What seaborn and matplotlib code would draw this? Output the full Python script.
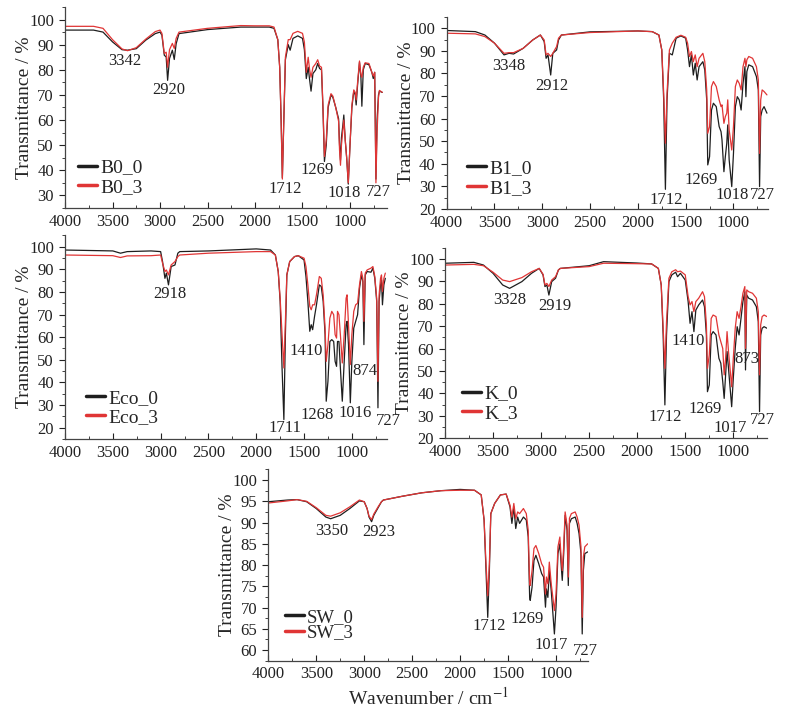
import numpy as np
import pandas as pd
import seaborn as sns
import matplotlib
matplotlib.use('Agg')
import matplotlib.pyplot as plt
from matplotlib.ticker import MultipleLocator
from matplotlib.lines import Line2D

# ---- spectra (wavenumber / cm-1, transmittance / %) ----
wn_b0 = [4000, 3700, 3600, 3500, 3400, 3342, 3250, 3150, 3050, 3000,
         2980, 2955, 2935, 2920, 2900, 2870, 2850, 2830, 2800, 2500,
         2150, 2000, 1850, 1800, 1760, 1740, 1725, 1712, 1700, 1680,
         1650, 1630, 1600, 1550, 1500, 1480, 1460, 1440, 1425, 1410,
         1390, 1360, 1340, 1320, 1300, 1285, 1269, 1250, 1230, 1200,
         1180, 1150, 1120, 1110, 1100, 1090, 1075, 1065, 1050, 1035,
         1018, 1000, 980, 960, 945, 935, 920, 900, 885, 875,
         860, 840, 800, 770, 755, 740, 727, 715, 700, 690,
         660]
t_b0_0 = [95.8, 95.8, 95.0, 91.1, 88.0, 87.8, 88.4, 91.8, 94.4, 95.0,
          93.8, 85.8, 85.1, 75.8, 84.5, 87.8, 84.1, 90.4, 94.4, 96.0,
          97.0, 97.0, 97.0, 96.5, 92.0, 81.0, 60.0, 37.0, 55.0, 84.0,
          90.0, 87.8, 92.5, 93.5, 92.5, 88.0, 76.5, 81.0, 76.0, 71.5,
          78.5, 80.0, 82.5, 80.5, 80.0, 65.0, 43.5, 50.0, 65.0, 70.0,
          69.0, 65.0, 60.5, 50.0, 44.0, 53.0, 58.0, 62.0, 52.0, 45.0,
          34.5, 50.0, 65.0, 71.5, 70.0, 66.0, 74.0, 83.0, 77.0, 65.5,
          80.0, 82.5, 82.0, 79.0, 76.5, 79.0, 36.5, 60.0, 70.0, 71.5,
          71.0]
t_b0_3 = [97.3, 97.3, 96.5, 92.0, 88.3, 87.6, 88.8, 92.2, 95.2, 95.8,
          94.5, 86.5, 87.0, 81.0, 88.0, 90.5, 88.5, 92.5, 95.0, 96.5,
          97.6, 97.5, 97.5, 97.0, 92.0, 81.0, 60.0, 36.5, 55.0, 85.0,
          92.0, 92.0, 94.5, 95.3, 94.5, 91.0, 79.0, 85.0, 80.0, 77.0,
          81.0, 82.5, 84.0, 81.5, 81.0, 66.0, 45.5, 52.0, 66.0, 70.5,
          69.5, 65.0, 59.5, 48.0, 42.0, 50.0, 56.0, 60.0, 52.0, 45.0,
          35.0, 50.0, 66.0, 72.0, 71.0, 68.0, 75.0, 83.5, 78.0, 77.0,
          81.0, 82.8, 82.5, 79.0, 77.5, 79.0, 35.0, 55.0, 69.0, 71.8,
          71.0]

wn_b1 = [4000, 3700, 3600, 3500, 3400, 3348, 3300, 3200, 3100, 3020,
         2980, 2960, 2940, 2912, 2890, 2850, 2830, 2800, 2500, 2000,
         1850, 1780, 1750, 1730, 1712, 1695, 1670, 1640, 1600, 1550,
         1500, 1480, 1460, 1440, 1420, 1400, 1380, 1360, 1320, 1300,
         1280, 1269, 1250, 1230, 1210, 1180, 1150, 1130, 1120, 1100,
         1085, 1070, 1060, 1045, 1018, 1000, 980, 960, 940, 920,
         900, 880, 870, 860, 840, 800, 760, 740, 727, 715,
         700, 680, 650]
t_b1_0 = [99.0, 98.5, 97.0, 93.4, 88.2, 88.9, 88.6, 91.1, 94.8, 97.0,
          94.1, 86.7, 88.2, 79.3, 88.9, 90.4, 94.8, 97.0, 98.4, 98.8,
          98.5, 97.0, 90.4, 68.3, 28.7, 68.3, 88.9, 88.2, 95.6, 96.6,
          95.6, 90.4, 83.0, 88.2, 79.3, 84.5, 77.1, 83.0, 85.2, 81.5,
          68.3, 39.5, 43.2, 63.8, 66.8, 65.3, 56.5, 54.2, 50.6, 36.5,
          43.2, 49.1, 57.2, 41.7, 29.9, 44.6, 65.3, 69.7, 68.3, 63.8,
          75.6, 83.0, 69.7, 80.8, 83.8, 83.0, 78.6, 72.7, 29.9, 60.9,
          63.8, 65.3, 62.4]
t_b1_3 = [97.8, 97.5, 96.3, 93.4, 88.9, 89.2, 89.2, 91.1, 94.8, 97.0,
          94.8, 88.2, 88.9, 87.5, 88.9, 91.9, 95.6, 97.0, 98.1, 98.8,
          98.5, 97.0, 90.4, 71.2, 49.1, 71.2, 90.4, 93.4, 96.0, 96.9,
          96.0, 93.4, 87.5, 89.7, 85.2, 88.2, 83.0, 86.7, 88.9, 85.2,
          72.7, 53.5, 56.5, 74.2, 76.4, 74.2, 68.3, 65.3, 66.1, 57.9,
          60.9, 62.4, 68.3, 55.0, 46.1, 56.5, 74.2, 77.1, 75.6, 72.7,
          83.0, 86.7, 83.0, 86.0, 87.5, 86.7, 83.0, 77.1, 44.6, 68.3,
          72.7, 72.0, 70.5]

wn_eco = [4000, 3500, 3420, 3350, 3100, 3000, 2980, 2955, 2940, 2918,
          2890, 2850, 2820, 2800, 2500, 2000, 1850, 1800, 1770, 1750,
          1730, 1711, 1695, 1680, 1650, 1600, 1560, 1500, 1480, 1460,
          1440, 1425, 1410, 1390, 1370, 1340, 1320, 1300, 1280, 1268,
          1250, 1230, 1210, 1190, 1175, 1160, 1150, 1135, 1120, 1100,
          1080, 1060, 1050, 1035, 1016, 1000, 980, 960, 940, 920,
          900, 885, 874, 860, 840, 800, 780, 760, 740, 727,
          715, 700, 690, 680, 665, 650]
t_eco_0 = [98.5, 98.1, 97.1, 97.8, 98.1, 97.8, 93.4, 86.0, 88.3, 83.1,
           91.2, 91.9, 97.1, 97.8, 98.1, 99.0, 98.5, 96.3, 89.0, 75.8,
           46.4, 23.6, 61.1, 87.5, 93.4, 95.6, 96.0, 94.1, 86.8, 75.8,
           62.6, 65.5, 63.3, 69.2, 74.3, 83.1, 82.4, 75.8, 61.1, 31.7,
           40.5, 58.1, 58.9, 58.1, 49.3, 47.1, 58.1, 58.1, 46.4, 31.7,
           49.3, 65.5, 67.0, 56.7, 31.0, 49.3, 64.0, 67.0, 69.9, 81.6,
           87.5, 84.6, 56.7, 87.5, 89.0, 88.7, 90.5, 86.0, 75.8, 28.8,
           75.8, 83.1, 85.3, 74.3, 83.1, 86.0]
t_eco_3 = [96.3, 96.0, 95.2, 95.9, 96.0, 96.3, 92.7, 89.0, 89.7, 87.5,
           91.9, 93.4, 95.6, 96.3, 97.1, 97.8, 97.8, 96.3, 89.0, 77.2,
           61.1, 46.4, 67.0, 87.5, 93.4, 95.6, 96.0, 94.9, 91.2, 83.1,
           73.6, 72.1, 74.3, 74.3, 78.7, 86.8, 86.0, 78.7, 64.0, 49.3,
           56.7, 68.4, 71.4, 69.9, 61.1, 59.6, 71.4, 69.9, 61.1, 48.6,
           61.1, 77.2, 78.7, 65.5, 47.9, 61.1, 71.4, 74.3, 75.0, 83.1,
           89.0, 86.0, 67.0, 88.3, 89.7, 90.5, 91.2, 86.8, 77.2, 40.5,
           78.7, 86.0, 87.5, 80.2, 86.0, 88.3]

wn_k = [4000, 3700, 3600, 3500, 3400, 3328, 3200, 3100, 3020, 2980,
        2960, 2940, 2919, 2890, 2850, 2820, 2800, 2500, 2350, 2000,
        1850, 1780, 1750, 1730, 1712, 1695, 1670, 1640, 1600, 1580,
        1550, 1500, 1470, 1450, 1430, 1410, 1390, 1360, 1320, 1300,
        1280, 1269, 1250, 1230, 1210, 1180, 1150, 1130, 1110, 1095,
        1080, 1065, 1050, 1017, 1000, 980, 960, 940, 920, 900,
        880, 873, 860, 840, 800, 760, 740, 727, 715, 700,
        680, 650]
t_k_0 = [98.1, 98.5, 97.3, 93.6, 88.4, 86.9, 89.9, 93.6, 95.8, 92.9,
         87.7, 88.4, 83.9, 89.9, 91.4, 95.1, 95.8, 97.0, 98.8, 98.2,
         97.8, 95.8, 88.4, 66.1, 34.9, 66.1, 89.9, 92.9, 94.1, 92.1,
         93.6, 90.6, 81.0, 71.3, 76.5, 67.6, 77.2, 79.5, 81.7, 78.7,
         66.1, 40.8, 43.8, 66.1, 67.6, 66.1, 55.7, 53.5, 45.3, 37.8,
         48.3, 58.7, 51.2, 34.1, 46.8, 60.1, 69.8, 66.1, 73.5, 81.0,
         85.4, 50.5, 83.9, 82.5, 81.7, 78.7, 72.0, 31.9, 66.1, 69.1,
         69.8, 69.1]
t_k_3 = [97.3, 97.6, 97.0, 94.1, 90.6, 89.9, 91.7, 94.3, 95.8, 93.2,
         88.4, 89.1, 87.7, 90.6, 92.1, 95.1, 95.8, 96.6, 98.1, 97.9,
         97.8, 95.8, 88.4, 69.1, 51.2, 72.0, 91.4, 94.3, 95.2, 94.3,
         94.6, 92.9, 83.2, 79.5, 81.0, 76.5, 81.0, 82.5, 85.4, 83.2,
         70.6, 51.2, 57.2, 73.5, 75.0, 74.3, 66.1, 63.1, 60.1, 48.3,
         55.7, 67.6, 58.7, 43.0, 55.7, 69.1, 76.5, 73.5, 78.7, 84.7,
         87.7, 60.1, 86.2, 85.4, 84.7, 82.5, 76.5, 48.3, 70.6, 74.3,
         75.0, 74.3]

wn_sw = [4000, 3800, 3700, 3600, 3500, 3400, 3350, 3250, 3150, 3050,
         3000, 2970, 2950, 2923, 2900, 2850, 2820, 2800, 2600, 2400,
         2200, 2000, 1850, 1780, 1750, 1730, 1712, 1695, 1680, 1640,
         1580, 1520, 1480, 1460, 1440, 1420, 1400, 1380, 1340, 1310,
         1290, 1275, 1269, 1250, 1230, 1210, 1180, 1150, 1130, 1110,
         1100, 1085, 1070, 1050, 1017, 1000, 980, 960, 945, 935,
         920, 905, 885, 872, 860, 840, 800, 780, 760, 740,
         727, 715, 700, 670]
t_sw_0 = [94.9, 95.3, 95.4, 94.9, 93.3, 91.3, 90.9, 91.7, 93.3, 95.1,
          94.9, 93.3, 91.3, 90.2, 91.7, 93.7, 94.9, 95.3, 96.2, 97.0,
          97.5, 97.8, 97.6, 96.5, 90.6, 78.7, 67.7, 78.7, 92.1, 94.5,
          96.5, 96.7, 93.7, 89.8, 93.7, 88.6, 91.3, 89.8, 91.3, 90.6,
          86.6, 72.4, 71.7, 74.8, 81.1, 82.3, 80.3, 78.0, 77.2, 70.1,
          74.4, 72.4, 78.7, 74.0, 63.8, 70.1, 82.7, 85.0, 79.5, 76.4,
          82.7, 91.7, 88.2, 75.2, 89.8, 90.9, 91.3, 89.8, 87.4, 82.7,
          63.8, 78.7, 82.7, 83.1]
t_sw_3 = [94.6, 95.1, 95.4, 95.0, 93.5, 91.7, 91.5, 92.3, 93.7, 95.3,
          94.9, 93.3, 91.5, 90.7, 92.0, 93.9, 94.9, 95.3, 96.2, 97.0,
          97.5, 97.6, 97.6, 96.5, 90.6, 80.3, 72.8, 80.3, 92.1, 94.5,
          96.5, 96.7, 94.1, 91.3, 94.5, 90.9, 92.5, 92.1, 93.3, 92.1,
          88.2, 75.6, 75.2, 78.7, 83.9, 84.6, 82.7, 80.3, 79.5, 73.2,
          77.2, 75.6, 80.7, 75.6, 69.3, 73.2, 84.3, 86.6, 81.1, 78.7,
          84.3, 92.5, 89.4, 77.2, 91.0, 92.1, 92.5, 91.3, 89.4, 84.3,
          67.7, 81.9, 84.3, 85.0]

# peak labels (text, wavenumber position, transmittance position)
pk_b0 = ['3342', '2920', '1712', '1269', '1018', '727']
pk_b0_x = [3368, 2912, 1684, 1351, 1060, 702]
pk_b0_y = [83.4, 72.1, 32.7, 40.0, 31.1, 31.3]
pk_b1 = ['3348', '2912', '1712', '1269', '1018', '727']
pk_b1_x = [3355, 2902, 1700, 1334, 1010, 697]
pk_b1_y = [83.5, 74.5, 24.0, 32.8, 26.2, 26.2]
pk_eco = ['2918', '1410', '874', '1268', '1016', '727', '1711']
pk_eco_x = [2902, 1474, 864, 1362, 969, 620, 1700]
pk_eco_y = [79.0, 54.0, 45.2, 25.8, 26.3, 22.9, 20.0]
pk_k = ['3328', '2919', '1410', '873', '1269', '1017', '727', '1712']
pk_k_x = [3323, 2854, 1472, 858, 1292, 1031, 701, 1708]
pk_k_y = [81.7, 79.0, 63.4, 55.2, 33.1, 24.8, 28.2, 29.7]
pk_sw = ['3350', '2923', '1712', '1269', '1017', '727']
pk_sw_x = [3340, 2853, 1699, 1299, 1046, 698]
pk_sw_y = [88.0, 87.8, 65.7, 67.3, 61.3, 59.8]

BLACK = '#1e1e1e'
RED = '#e03535'

sns.set_theme(style='ticks')
plt.rcParams['font.family'] = ['Liberation Serif', 'DejaVu Serif']
plt.rcParams['mathtext.fontset'] = 'stix'

fig = plt.figure(figsize=(7.91, 7.12), dpi=100)


def draw(rect, wn, t0, t3, names, xright, ylim, yticks, ystep,
         pk, pkx, pky, leg_xy, leg_sp, leg_fs=14, xlabel=False):
    ax = fig.add_axes(rect)
    n = len(wn)
    df = pd.DataFrame({'wn': wn + wn, 'T': t0 + t3,
                       'sample': [names[0]] * n + [names[1]] * n})
    sns.lineplot(data=df, x='wn', y='T', hue='sample', palette=[BLACK, RED],
                 estimator=None, lw=0.9, ax=ax, legend=False)
    ax.set_xlim(4000, xright)
    ax.set_ylim(*ylim)
    ax.set_xticks([4000, 3500, 3000, 2500, 2000, 1500, 1000])
    ax.xaxis.set_minor_locator(MultipleLocator(250))
    ax.set_yticks(yticks)
    ax.yaxis.set_minor_locator(MultipleLocator(ystep))
    ax.tick_params(axis='x', which='both', direction='in', labelsize=12, pad=4, colors='#222222')
    ax.tick_params(axis='y', which='both', direction='out', labelsize=12, pad=4, colors='#222222')
    ax.tick_params(which='major', length=4, width=0.8)
    ax.tick_params(which='minor', length=2, width=0.6)
    for s in ['left', 'bottom']:
        ax.spines[s].set_color('#444444')
        ax.spines[s].set_linewidth(0.9)
    sns.despine(ax=ax)
    ax.set_ylabel('Transmittance / %', fontsize=14, labelpad=-3)
    if xlabel:
        ax.set_xlabel('Wavenumber / cm$^{-1}$', fontsize=14, labelpad=3)
    else:
        ax.set_xlabel('')
    for lab, x, y in zip(pk, pkx, pky):
        ax.text(x, y, lab, fontsize=12, ha='center', va='center', color='#222222')
    handles = [Line2D([], [], color=BLACK, lw=2.5), Line2D([], [], color=RED, lw=2.5)]
    ax.legend(handles, names, loc='center left', bbox_to_anchor=leg_xy, frameon=False,
              fontsize=leg_fs, handlelength=1.0, handletextpad=0.15, labelspacing=leg_sp,
              borderpad=0, borderaxespad=0)
    return ax


draw([0.0822, 0.7079, 0.4071, 0.2823], wn_b0, t_b0_0, t_b0_3, ['B0_0', 'B0_3'],
     610, (25, 105), list(range(30, 101, 10)), 5, pk_b0, pk_b0_x, pk_b0_y, (0.04, 0.152), 0.1)
draw([0.5647, 0.7065, 0.4062, 0.2697], wn_b1, t_b1_0, t_b1_3, ['B1_0', 'B1_3'],
     639, (20, 105), list(range(20, 101, 10)), 5, pk_b1, pk_b1_x, pk_b1_y, (0.062, 0.161), 0.1)
draw([0.0822, 0.3834, 0.4071, 0.2861], wn_eco, t_eco_0, t_eco_3, ['Eco_0', 'Eco_3'],
     632, (15, 105), list(range(20, 101, 10)), 5, pk_eco, pk_eco_x, pk_eco_y, (0.065, 0.154), 0.1)
draw([0.5626, 0.3844, 0.4071, 0.2676], wn_k, t_k_0, t_k_3, ['K_0', 'K_3'],
     649, (20, 105), list(range(20, 101, 10)), 5, pk_k, pk_k_x, pk_k_y, (0.052, 0.183), 0.1)
draw([0.3392, 0.0720, 0.4046, 0.2687], wn_sw, t_sw_0, t_sw_3, ['SW_0', 'SW_3'],
     663, (57.5, 102.5), list(range(60, 101, 5)), 2.5, pk_sw, pk_sw_x, pk_sw_y, (0.052, 0.186), -0.08,
     leg_fs=13.5, xlabel=True)

fig.savefig('out.png', dpi=100, facecolor='white')
